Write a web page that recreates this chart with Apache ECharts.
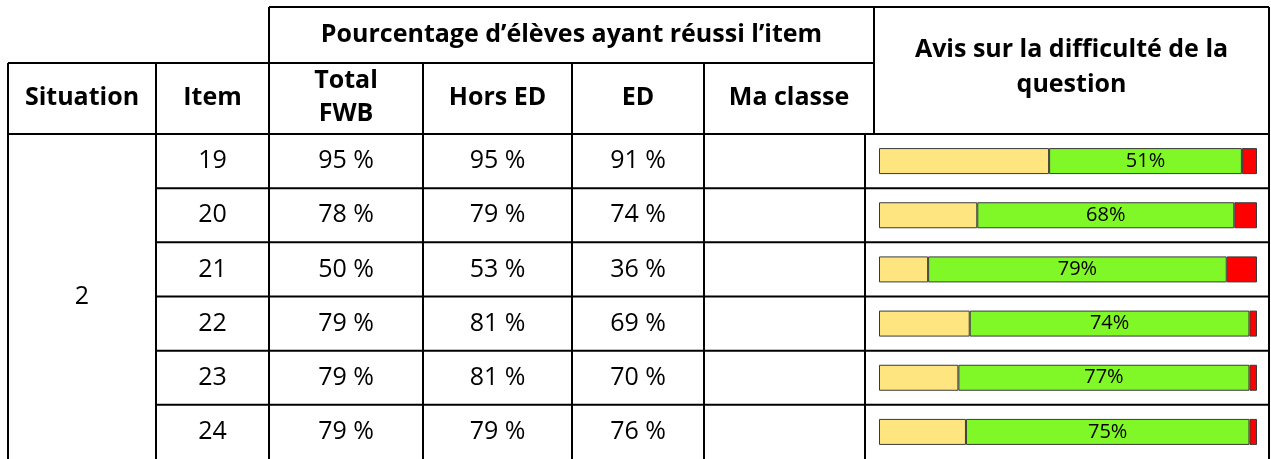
<!DOCTYPE html>
<html>
<head>
<meta charset="utf-8">
<script src="https://cdn.jsdelivr.net/npm/echarts@6/dist/echarts.min.js"></script>
<style>
  html, body { margin: 0; padding: 0; background: #fff; }
  #chart { width: 1271px; height: 459px; }
</style>
</head>
<body>
<div id="chart"></div>
<script>
// table values
const situation = '2';
const items = ['19', '20', '21', '22', '23', '24'];
const totalFWB = [95, 78, 50, 79, 79, 79];
const horsED = [95, 79, 53, 81, 81, 79];
const ed = [91, 74, 36, 69, 70, 76];
const maClasse = ['', '', '', '', '', ''];

// difficulty opinion (percent of answers)
const avisFacile = [45, 26, 13, 24, 21, 23];
const avisAdapte = [51, 68, 79, 74, 77, 75];
const avisDifficile = [4, 6, 8, 2, 2, 2];

const chart = echarts.init(document.getElementById('chart'));

// layout
const FONT = '"Open Sans", "Noto Sans", sans-serif';
const headTop = 7, headMid = 63, headBot = 134, tableBot = 459;
const rowH = (tableBot - headBot) / items.length;
const colX = [8, 156, 269, 423, 572, 704, 865, 1269];
const avisHeadX = 874;

const graphics = [];

function line(x1, y1, x2, y2) {
  graphics.push({
    type: 'line',
    shape: { x1, y1, x2, y2 },
    style: { stroke: '#000', lineWidth: 2 },
    z: 10
  });
}

function text(str, x, y, bold) {
  graphics.push({
    type: 'text',
    x: x,
    y: y,
    style: {
      text: str,
      font: (bold ? 'bold 25px ' : '25px ') + FONT,
      fill: '#000',
      textAlign: 'center',
      textVerticalAlign: 'middle'
    },
    z: 10
  });
}

// grid lines
line(colX[2], headTop, colX[7], headTop);
line(colX[0], headMid, avisHeadX, headMid);
line(colX[0], headBot, colX[7], headBot);
for (let i = 1; i < items.length; i++) {
  const y = headBot + rowH * i;
  line(colX[1], y, colX[7], y);
}
line(colX[0], headMid, colX[0], tableBot);
line(colX[1], headMid, colX[1], tableBot);
line(colX[2], headTop, colX[2], tableBot);
line(colX[3], headMid, colX[3], tableBot);
line(colX[4], headMid, colX[4], tableBot);
line(colX[5], headMid, colX[5], tableBot);
line(avisHeadX, headTop, avisHeadX, headBot);
line(colX[6], headBot, colX[6], tableBot);
line(colX[7], headTop, colX[7], tableBot);

// headers
const mid = (a, b) => (a + b) / 2;
text('Pourcentage d\u2019élèves ayant réussi l\u2019item', mid(colX[2], avisHeadX), 35, true);
text('Avis sur la difficulté de la', mid(avisHeadX, colX[7]), 50, true);
text('question', mid(avisHeadX, colX[7]), 85, true);
text('Situation', mid(colX[0], colX[1]), 98, true);
text('Item', mid(colX[1], colX[2]), 98, true);
text('Total', mid(colX[2], colX[3]), 81, true);
text('FWB', mid(colX[2], colX[3]), 114, true);
text('Hors ED', mid(colX[3], colX[4]), 98, true);
text('ED', mid(colX[4], colX[5]), 98, true);
text('Ma classe', mid(colX[5], avisHeadX), 98, true);

// body
text(situation, mid(colX[0], colX[1]), mid(headBot, tableBot), false);
items.forEach((it, i) => {
  const y = headBot + rowH * (i + 0.5);
  text(it, mid(colX[1], colX[2]), y, false);
  text(totalFWB[i] + ' %', mid(colX[2], colX[3]), y, false);
  text(horsED[i] + ' %', mid(colX[3], colX[4]), y, false);
  text(ed[i] + ' %', mid(colX[4], colX[5]), y, false);
  if (maClasse[i] !== '') text(maClasse[i] + ' %', mid(colX[5], colX[6]), y, false);
});

const barStyle = (color) => ({ color: color, borderColor: '#3a3a3a', borderWidth: 1 });

chart.setOption({
  animation: false,
  backgroundColor: '#fff',
  grid: { left: 879, right: 14, top: headBot, bottom: 0 },
  xAxis: { type: 'value', min: 0, max: 100, show: false },
  yAxis: {
    type: 'category',
    data: items,
    inverse: true,
    show: false
  },
  series: [
    {
      name: 'Facile',
      type: 'bar',
      stack: 'avis',
      barWidth: 26,
      data: avisFacile,
      itemStyle: barStyle('#ffe580')
    },
    {
      name: 'Adaptée',
      type: 'bar',
      stack: 'avis',
      barWidth: 26,
      data: avisAdapte,
      itemStyle: barStyle('#80f828'),
      label: {
        show: true,
        position: 'inside',
        formatter: '{c}%',
        color: '#000',
        fontSize: 20,
        fontFamily: FONT
      }
    },
    {
      name: 'Difficile',
      type: 'bar',
      stack: 'avis',
      barWidth: 26,
      data: avisDifficile,
      itemStyle: barStyle('#ff0000')
    }
  ],
  graphic: graphics
});
</script>
</body>
</html>
